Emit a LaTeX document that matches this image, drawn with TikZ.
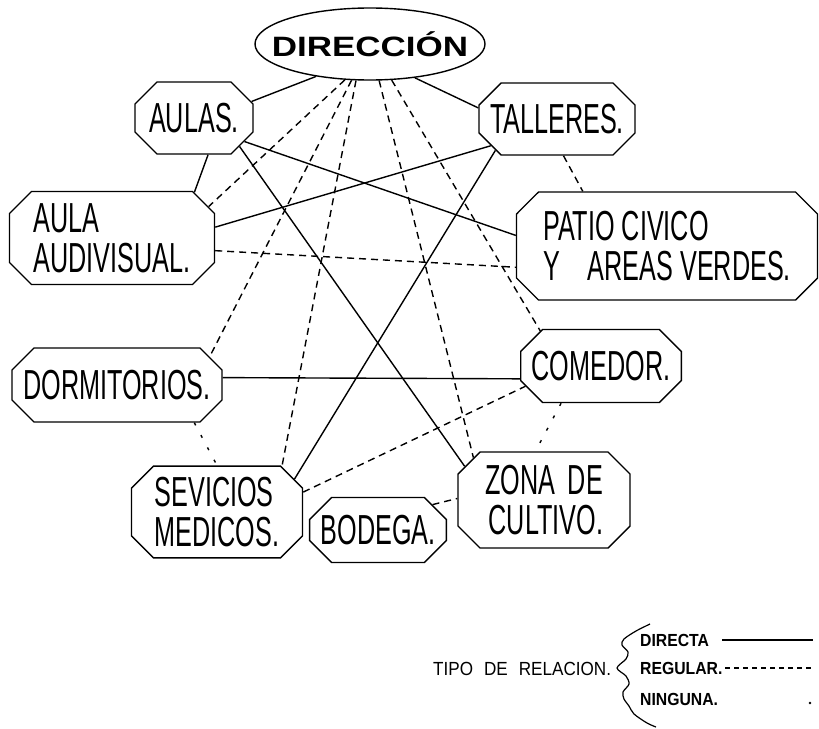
\documentclass[tikz,border=0pt]{standalone}
\usepackage{fontspec}
\usepackage{tikz}
\usetikzlibrary{shapes.geometric,shapes.misc}
\newfontfamily\cadfont[FakeStretch=0.6]{Liberation Sans}
\newfontfamily\titlefont[FakeStretch=1.25]{Liberation Sans}
\newfontfamily\legendfont[FakeStretch=0.9]{Liberation Sans}
\tikzset{
	room/.style={draw, chamfered rectangle, chamfered rectangle sep=11pt, line width=1.4pt, inner sep=0pt, font=\cadfont\fontsize{42}{40}\selectfont},
	directa/.style={line width=1.4pt},
	regular/.style={line width=1.4pt, dash pattern=on 7pt off 5pt},
	ninguna/.style={line width=1.4pt, dash pattern=on 3pt off 11pt},
}

\begin{document}
\begin{tikzpicture}[x=1pt, y=-1pt]
	\useasboundingbox (0,0) rectangle (819,728);
	\node[draw, ellipse, line width=1.4pt, minimum width=230pt, minimum height=72pt, inner xsep=-17pt, inner ysep=0pt, font=\titlefont\bfseries\fontsize{28}{30}\selectfont] (dir) at (370,44) {DIRECCIÓN};
	\foreach \x/\y/\w/\h/\name/\al/\txt in {194/118/118/72/aulas/center/{AULAS.}, 557/119/153/72/talleres/center/{TALLERES.}, 112/238/205/93/audio/left/{AULA\\AUDIVISUAL.}, 667/246/301/108/patio/left/{PATIO CIVICO\\Y\hspace{28pt}AREAS VERDES.}, 117/385/210/74/dorm/center/{DORMITORIOS.}, 601/366/153/73/comedor/center/{COMEDOR.}, 217/512/171/91/servicios/left/{SEVICIOS\\MEDICOS.}, 378/530/135/65/bodega/center/{BODEGA.}, 544/500/172/96/zona/right/{ZONA\hspace{6pt} DE\\CULTIVO.}} {
		\node[room, minimum width=\w pt, minimum height=\h pt, align=\al] (\name) at (\x,\y) {\txt};
	}
	\foreach \a/\aa/\b/\bb/\sty in {dir/211/aulas/16/directa, dir/323/talleres/172/directa, aulas/291/audio/29/directa, aulas/335/patio/176/directa, aulas/328/zona/157/directa, audio/6/talleres/202/directa, talleres/207/servicios/23/directa, dorm/4/comedor/189/directa, dir/235/audio/18/regular, dir/243/dorm/17/regular, dir/249/servicios/35/regular, dir/284/zona/149/regular, dir/301/comedor/150/regular, audio/353/patio/188/regular, talleres/280/patio/147/regular, servicios/13/comedor/195/regular, bodega/25/zona/179/regular, dorm/334/servicios/90/ninguna, comedor/223/zona/100/ninguna} {
		\draw[\sty] (\a.\aa) -- (\b.\bb);
	}
	% legend
	\node[font=\legendfont\fontsize{19}{21}\selectfont, anchor=west, inner sep=0pt] (tipo) at (433,669) {TIPO\hspace{11pt}DE\hspace{11pt}RELACION.};
	\draw[line width=1.2pt] plot[smooth] coordinates {(650,624) (636,631) (624,639) (622,645) (628,652) (626,659) (617,668) (626,676) (629,684) (623,692) (624,699) (629,706) (634,714) (647,723) (656,727)};
	\foreach \y/\name/\txt in {640/ldirecta/DIRECTA, 668/lregular/REGULAR., 699/lninguna/NINGUNA.} {
		\node[font=\legendfont\bfseries\fontsize{17.5}{20}\selectfont, anchor=west, inner sep=0pt] (\name) at (640,\y) {\txt};
	}
	\coordinate (a1) at (722,640);
	\coordinate (a2) at (813,640);
	\coordinate (b1) at (725,668);
	\coordinate (b2) at (813,668);
	\coordinate (c1) at (810,703);
	\draw[directa] (a1) -- (a2);
	\draw[regular, dash pattern=on 5pt off 4pt] (b1) -- (b2);
	\fill (c1) circle (1.3pt);
\end{tikzpicture}
\end{document}
